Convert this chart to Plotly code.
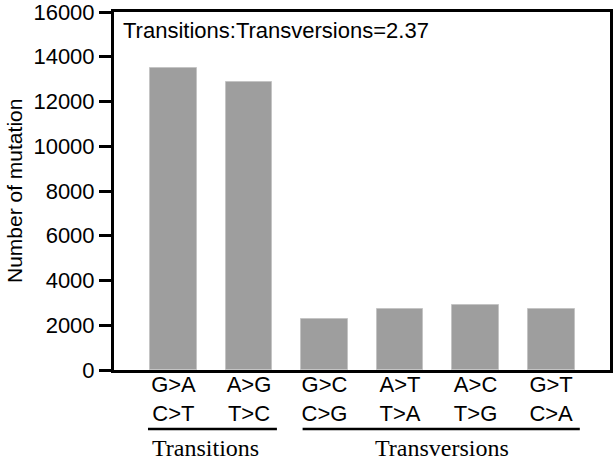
import plotly.graph_objects as go

categories = ["G>A<br>C>T", "A>G<br>T>C", "G>C<br>C>G", "A>T<br>T>A", "A>C<br>T>G", "G>T<br>C>A"]
values = [13480, 12860, 2300, 2710, 2920, 2710]
y_ticks = [0, 2000, 4000, 6000, 8000, 10000, 12000, 14000, 16000]
groups = ["Transitions", "Transversions"]
ratio_text = "Transitions:Transversions=2.37"
y_title = "Number of mutation"

x_idx = list(range(len(categories)))

fig = go.Figure()
fig.add_trace(go.Bar(
    x=x_idx, y=values, width=0.62, hoverinfo="skip",
    marker=dict(color="#9e9e9e", line=dict(color="#c4c4c4", width=1)),
))

W, H = 616, 459
L, R, T, B = 114, 6, 12, 89
SANS = "Liberation Sans, Arial"

fig.update_layout(
    width=W, height=H,
    margin=dict(l=L, r=R, t=T, b=B),
    plot_bgcolor="white", paper_bgcolor="white",
    showlegend=False, hovermode=False,
    font=dict(family=SANS, size=22, color="black"),
    bargap=0,
)
fig.update_xaxes(
    range=[-0.787, 5.78], tickmode="array", tickvals=x_idx, ticktext=categories,
    showline=True, linecolor="black", linewidth=3, mirror=True,
    ticks="", showgrid=False, zeroline=False, automargin=False,
    tickfont=dict(size=22, family=SANS), ticklabelstandoff=-7, fixedrange=True,
)
fig.update_yaxes(
    range=[0, 16000], tickmode="array", tickvals=y_ticks,
    ticktext=[str(v) for v in y_ticks],
    showline=True, linecolor="black", linewidth=3, mirror=True,
    ticks="outside", ticklen=12, tickwidth=3, tickcolor="black",
    showgrid=False, zeroline=False, automargin=False, ticklabeloverflow="allow",
    tickfont=dict(size=22, family=SANS), fixedrange=True,
)

# y-axis title
fig.add_annotation(
    x=-0.2016, y=0.5, xref="paper", yref="paper", xanchor="center", yanchor="middle",
    text=y_title, textangle=-90, showarrow=False, font=dict(size=21, family=SANS),
)

fig.add_annotation(
    x=0.014, y=0.988, xref="paper", yref="paper", xanchor="left", yanchor="top",
    text=ratio_text, showarrow=False, font=dict(size=22, family=SANS),
)

# group underlines and labels
spans = [(-0.337, 1.37), (1.71, 5.38)]
label_x = [0.43, 3.56]
for (x0, x1), lx, g in zip(spans, label_x, groups):
    fig.add_shape(type="line", xref="x", yref="paper", x0=x0, x1=x1,
                  y0=-0.1648, y1=-0.1648, line=dict(color="black", width=2.5))
    fig.add_annotation(x=lx, y=-0.218, xref="x", yref="paper",
                       text=g, showarrow=False, yanchor="middle",
                       font=dict(size=24, family="Liberation Serif, Times New Roman"))

fig.write_html("out.html", config={"displayModeBar": False},
               post_script="document.body.style.margin='0';")
